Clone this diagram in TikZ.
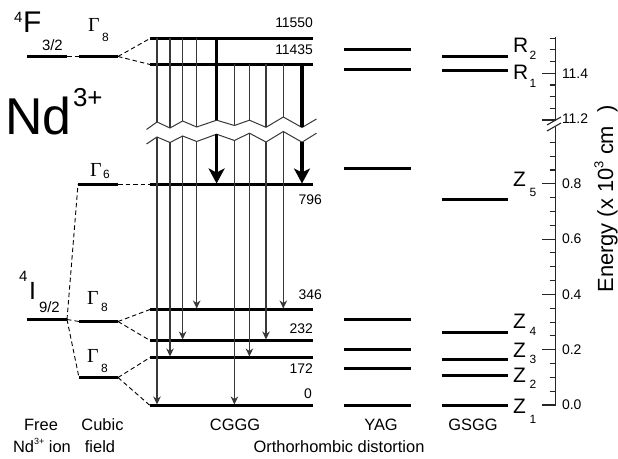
\documentclass[tikz,border=0pt]{standalone}
\usepackage{fontspec}
\setmainfont{Liberation Sans}
\newfontfamily\gfont{Liberation Serif}
\usetikzlibrary{arrows.meta}
\newcommand\fs[1]{\fontsize{#1}{#1}\selectfont}
\begin{document}
\begin{tikzpicture}[x=1bp,y=-1bp,
 lev/.style={line width=3bp,draw=black},
 thinln/.style={line width=1.2bp,draw=black!78},
 thinarr/.style={thinln,-{Stealth[length=8bp,width=7.5bp,inset=2.5bp]}},
 bigln/.style={line width=3.2bp,draw=black},
 bigarr/.style={bigln,-{Stealth[length=15bp,width=16bp,inset=4bp]}},
 dsh/.style={line width=0.9bp,dash pattern=on 4.5bp off 3bp},
 zig/.style={line width=1bp,draw=black!78},
 axl/.style={line width=1.1bp,draw=black!85},
 txt/.style={inner sep=0pt,outer sep=0pt},
]
\fill[white] (0,0) rectangle (618,459);
\useasboundingbox (0,0) rectangle (618,459);

% ---------- CGGG levels ----------
\foreach \n/\yy in {a/38.5,b/64.5,c/184.5,d/309.5,e/340.5,f/357.5,g/405.5}{
  \coordinate (cg\n L) at (150,\yy);
  \coordinate (cg\n R) at (313,\yy);
  \draw[lev] (cg\n L) -- (cg\n R);
}
% ---------- YAG levels ----------
\foreach \n/\yy in {a/49.5,b/69.5,c/168.5,d/319.5,e/349.5,f/368.5,g/405.5}{
  \coordinate (ya\n L) at (344,\yy);
  \coordinate (ya\n R) at (411,\yy);
  \draw[lev] (ya\n L) -- (ya\n R);
}
% ---------- GSGG levels ----------
\foreach \n/\yy in {a/56.5,b/70.5,c/199.5,d/332.5,e/359.5,f/375.5,g/405.5}{
  \coordinate (gs\n L) at (442,\yy);
  \coordinate (gs\n R) at (508,\yy);
  \draw[lev] (gs\n L) -- (gs\n R);
}

% ---------- free ion / cubic field ----------
\coordinate (fFL) at (27,56.5);   \coordinate (fFR) at (67,56.5);
\coordinate (cFL) at (79,56.5);   \coordinate (cFR) at (118,56.5);
\coordinate (c6L) at (78,184.5);  \coordinate (c6R) at (118,184.5);
\coordinate (fIL) at (27,319.5);  \coordinate (fIR) at (67,319.5);
\coordinate (cAL) at (79,321.5);  \coordinate (cAR) at (118,321.5);
\coordinate (cBL) at (79,377.5);  \coordinate (cBR) at (118,377.5);
\draw[lev] (fFL) -- (fFR);
\draw[lev] (cFL) -- (cFR);
\draw[lev] (c6L) -- (c6R);
\draw[lev] (fIL) -- (fIR);
\draw[lev] (cAL) -- (cAR);
\draw[lev] (cBL) -- (cBR);
\draw[dsh] (fFR) -- (cFL);
\draw[dsh] (cFR) -- (cgaL);
\draw[dsh] (cFR) -- (cgbL);
\draw[dsh] (c6R) -- (cgcL);
\draw[dsh] (fIR) -- (c6L);
\draw[dsh] (fIR) -- (cAL);
\draw[dsh] (fIR) -- (cBL);
\draw[dsh] (cAR) -- (cgdL);
\draw[dsh] (cAR) -- (cgeL);
\draw[dsh] (cBR) -- (cgfL);
\draw[dsh] (cBR) -- (cggL);

% ---------- zigzag break ----------
\foreach \i/\x/\yu/\yl in {0/146.5/129.5/144, 1/157/122/137, 2/170/128/142.5, 3/182.6/121/136,
  4/196.7/127/141.5, 5/216.6/120.2/134.2, 6/234.4/125.5/140.5, 7/249.4/120.2/133.2,
  8/266/127.3/142, 9/283.3/117/131.5, 10/302/127.5/142.2, 11/316.5/119/133.2}{
  \coordinate (u\i) at (\x,\yu);
  \coordinate (l\i) at (\x,\yl);
}
\draw[zig] (u0) -- (u1) -- (u2) -- (u3) -- (u4) -- (u5) -- (u6) -- (u7) -- (u8) -- (u9) -- (u10) -- (u11);
\draw[zig] (l0) -- (l1) -- (l2) -- (l3) -- (l4) -- (l5) -- (l6) -- (l7) -- (l8) -- (l9) -- (l10) -- (l11);

% ---------- transitions ----------
\foreach \i/\x/\ys/\ye in {1/157/38.5/404.5, 2/170/38.5/356.5, 3/182.6/38.5/339.5, 4/196.7/38.5/308.5,
  6/234.4/64.5/404.5, 7/249.4/64.5/356.5, 8/266/64.5/339.5, 9/283.3/64.5/308.5}{
  \coordinate (t\i) at (\x,\ys);
  \coordinate (e\i) at (\x,\ye);
  \draw[thinln] (t\i) -- (u\i);
  \draw[thinarr] (l\i) -- (e\i);
}
\coordinate (t5) at (216.6,38.5); \coordinate (e5) at (216.6,183.5);
\coordinate (t10) at (302,64.5);  \coordinate (e10) at (302,183.5);
\draw[bigln] (t5) -- (u5);
\draw[bigarr] (l5) -- (e5);
\draw[bigln] (t10) -- (u10);
\draw[bigarr] (l10) -- (e10);

% ---------- level values ----------
\node[txt,anchor=base east] (v1) at (313,28) {\fs{14}11550};
\node[txt,anchor=base east] (v2) at (313,55) {\fs{14}11435};
\node[txt,anchor=base east] (v3) at (322,205) {\fs{14}796};
\node[txt,anchor=base east] (v4) at (322,300) {\fs{14}346};
\node[txt,anchor=base east] (v5) at (313,333) {\fs{14}232};
\node[txt,anchor=base east] (v6) at (313,373) {\fs{14}172};
\node[txt,anchor=base east] (v7) at (312,398) {\fs{14}0};

% ---------- term labels ----------
\node[txt,anchor=base west] (f4) at (14,23) {\fs{15}4};
\node[txt,anchor=base west] (fF) at (23,33) {\fs{30}F};
\node[txt,anchor=base west] (f32) at (42,51) {\fs{15}3/2};
\node[txt,anchor=base west] (i4) at (19,282) {\fs{15}4};
\node[txt,anchor=base west] (iI) at (29,300) {\fs{25}I};
\node[txt,anchor=base west] (i92) at (39,312) {\fs{15}9/2};
\node[txt,anchor=base west] (nd) at (5,135) {\fs{52}Nd};
\node[txt,anchor=base west] (nd3) at (73,107) {\fs{26}3+};

\node[txt,anchor=base west] (gA) at (88,32) {\gfont\fs{20}Γ};
\node[txt,anchor=base west] (gAs) at (102,42) {\fs{12}8};
\node[txt,anchor=base west] (gB) at (90,176.5) {\gfont\fs{20}Γ};
\node[txt,anchor=base west] (gBs) at (103,178.5) {\fs{12}6};
\node[txt,anchor=base west] (gC) at (87,305) {\gfont\fs{20}Γ};
\node[txt,anchor=base west] (gCs) at (101,311) {\fs{12}8};
\node[txt,anchor=base west] (gD) at (87,362) {\gfont\fs{20}Γ};
\node[txt,anchor=base west] (gDs) at (101,372) {\fs{12}8};

% ---------- R / Z labels ----------
\foreach \nm/\L/\s/\yb/\ys in {r2/R/2/53/60, r1/R/1/80/88, z5/Z/5/187/197, z4/Z/4/328/335,
  z3/Z/3/357/363, z2/Z/2/382/388, z1/Z/1/413/423}{
  \node[txt,anchor=base west] (\nm) at (513,\yb) {\fs{21}\L};
  \node[txt,anchor=base west] (\nm s) at (529.5,\ys) {\fs{12}\s};
}

% ---------- axis ----------
\draw[axl] (555.5,37.5) -- (555.5,121);
\draw[axl] (555.5,127) -- (555.5,405.6);
\foreach \k in {0,...,7}{
  \pgfmathsetmacro\yy{120-\k*11.675}
  \pgfmathtruncatemacro\m{mod(\k,4)}
  \ifnum\m=0 \draw[axl] (542,\yy) -- (555.5,\yy); \else \draw[axl] (549.5,\yy) -- (555.5,\yy); \fi
}
\foreach \k in {0,...,19}{
  \pgfmathsetmacro\yy{405-\k*13.825}
  \pgfmathtruncatemacro\m{mod(\k,4)}
  \ifnum\m=0 \draw[axl] (542,\yy) -- (555.5,\yy); \else \draw[axl] (549.5,\yy) -- (555.5,\yy); \fi
}
\fill[white] (546,121) rectangle (562,127);
\draw[axl] (547,125) -- (561,117);
\draw[axl] (547,131) -- (561,123);
\foreach \nm/\t/\yy in {t0/0.0/405, t2/0.2/349.7, t4/0.4/294.4, t6/0.6/239.1, t8/0.8/183.8, tb/11.2/119, tc/11.4/73.3}{
  \node[txt,anchor=west] (\nm) at (562,\yy) {\fs{14}\t};
}
\node[txt,rotate=90,anchor=center] (elab) at (606,199) {\fs{22}Energy (x 10\raisebox{0.45em}{\fs{13}3} cm\hspace{13bp})};

% ---------- bottom labels ----------
\node[txt,anchor=base] (free) at (41,430) {\fs{16.5}Free};
\node[txt,anchor=base] (ion) at (42,452) {\fs{16.5}Nd\raisebox{0.45em}{\fs{9}3+} ion};
\node[txt,anchor=base] (cub) at (102.5,430) {\fs{16.5}Cubic};
\node[txt,anchor=base] (fld) at (100,452) {\fs{16.5}field};
\node[txt,anchor=base] (cg) at (235,430) {\fs{16.5}CGGG};
\node[txt,anchor=base] (yag) at (381,430) {\fs{16.5}YAG};
\node[txt,anchor=base] (gsgg) at (473,430) {\fs{16.5}GSGG};
\node[txt,anchor=base] (orth) at (339,452) {\fs{16.5}Orthorhombic distortion};
\end{tikzpicture}
\end{document}
